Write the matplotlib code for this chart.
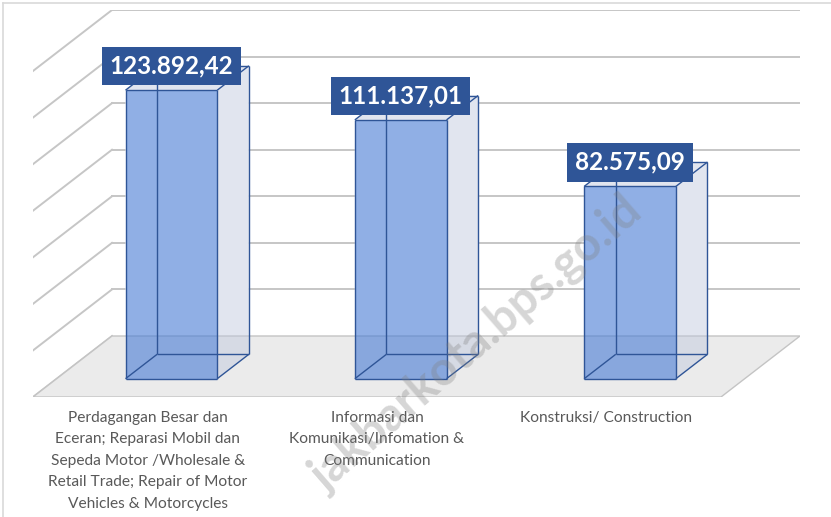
import matplotlib
matplotlib.use("Agg")
import matplotlib.pyplot as plt
from matplotlib.patches import Polygon
from matplotlib.lines import Line2D

categories = [
    "Perdagangan Besar dan\nEceran; Reparasi Mobil dan\nSepeda Motor /Wholesale &\nRetail Trade; Repair of Motor\nVehicles & Motorcycles",
    "Informasi dan\nKomunikasi/Infomation &\nCommunication",
    "Konstruksi/ Construction",
]
values = [123892.42, 111137.01, 82575.09]
grid_values = [0, 20000, 40000, 60000, 80000, 100000, 120000, 140000]

VMAX = 140000
# oblique depth shift (data units for a full depth of 1)
DX = 79 / 229.33
DV = 61 * VMAX / 326

plt.rcParams['font.family'] = ['Lato', 'DejaVu Sans']

fig = plt.figure(figsize=(8.31, 5.17), dpi=100)
ax = fig.add_axes([33 / 831, 120 / 517, 767 / 831, 387 / 517])
ax.set_xlim(-0.5, 2.5 + DX)
ax.set_ylim(0, VMAX + DV)
for s in ax.spines.values():
    s.set_visible(False)
ax.set_yticks([])


def proj(x, v, d):
    return (x + d * DX, v + d * DV)


# walls: gridlines on back wall + side wall
grid_col = '#c6c6c6'
for g in grid_values:
    if g > 0:
        p0, p1 = proj(-0.5, g, 1), proj(2.5, g, 1)
        ax.plot([p0[0], p1[0]], [p0[1], p1[1]], color=grid_col, lw=1.4, zorder=1)
    q0, q1 = proj(-0.5, g, 0), proj(-0.5, g, 1)
    ax.plot([q0[0], q1[0]], [q0[1], q1[1]], color=grid_col, lw=1.4, zorder=1)

# floor
floor = Polygon([proj(-0.5, 0, 0), proj(2.5, 0, 0), proj(2.5, 0, 1), proj(-0.5, 0, 1)],
                closed=True, facecolor='#ebebeb', edgecolor='#c4c4c4', lw=1.0, zorder=3)
ax.add_patch(floor)

edge = '#2f5597'
bw = 0.2
d0, d1 = 0.3, 0.7
for i, v in enumerate(values):
    x0, x1 = i - bw, i + bw
    # white backing so the walls don't show through
    sil = [proj(x0, 0, d0), proj(x1, 0, d0), proj(x1, 0, d1), proj(x1, v, d1),
           proj(x0, v, d1), proj(x0, v, d0)]
    ax.add_patch(Polygon(sil, closed=True, facecolor='white', edgecolor='none', zorder=2))
    # side face
    side = [proj(x1, 0, d0), proj(x1, 0, d1), proj(x1, v, d1), proj(x1, v, d0)]
    ax.add_patch(Polygon(side, closed=True, facecolor='#bdc6dc', alpha=0.45,
                         edgecolor='none', zorder=4))
    top = [proj(x0, v, d0), proj(x1, v, d0), proj(x1, v, d1), proj(x0, v, d1)]
    ax.add_patch(Polygon(top, closed=True, facecolor='#bdc6dc', alpha=0.45,
                         edgecolor='none', zorder=4))
    front = [proj(x0, 0, d0), proj(x1, 0, d0), proj(x1, v, d0), proj(x0, v, d0)]
    ax.add_patch(Polygon(front, closed=True, facecolor='#467bd5', alpha=0.6,
                         edgecolor='none', zorder=5))
    # box edges
    corners = {}
    for xx in (x0, x1):
        for vv in (0, v):
            for dd in (d0, d1):
                corners[(xx, vv, dd)] = proj(xx, vv, dd)
    pairs = []
    for vv in (0, v):
        for dd in (d0, d1):
            pairs.append(((x0, vv, dd), (x1, vv, dd)))
    for xx in (x0, x1):
        for dd in (d0, d1):
            pairs.append(((xx, 0, dd), (xx, v, dd)))
    for xx in (x0, x1):
        for vv in (0, v):
            pairs.append(((xx, vv, d0), (xx, vv, d1)))
    for a, b in pairs:
        pa, pb = corners[a], corners[b]
        ax.plot([pa[0], pb[0]], [pa[1], pb[1]], color=edge, lw=1.0, zorder=6,
                solid_capstyle='butt')

    lbl = f"{v:,.2f}".replace(",", "X").replace(".", ",").replace("X", ".")
    ax.annotate(lbl, xy=proj(i, v, d0), xytext=(0, 9), textcoords='offset points',
                ha='center', va='bottom', fontsize=17.5, fontweight='bold', color='white',
                zorder=8,
                bbox=dict(boxstyle='square,pad=0.32', fc='#2f5597', ec='none'))

ax.set_xticks(range(len(categories)))
ax.set_xticklabels(categories, fontsize=11.2, color='#595959', linespacing=1.68)
ax.tick_params(axis='x', length=0, pad=10)

# chart border (left + top)
fig.add_artist(Line2D([3 / 831, 3 / 831], [0, 1 - 3 / 517], color='#d9d9d9', lw=1.2))
fig.add_artist(Line2D([3 / 831, 1], [1 - 3 / 517, 1 - 3 / 517], color='#d9d9d9', lw=1.2))

# watermark
fig.text(476 / 831, 1 - 344 / 517, 'jakbarkota.bps.go.id', rotation=41,
         ha='center', va='center', fontsize=34, fontweight='bold',
         color='#808080', alpha=0.32, zorder=20)

fig.savefig('out.png', dpi=100)
